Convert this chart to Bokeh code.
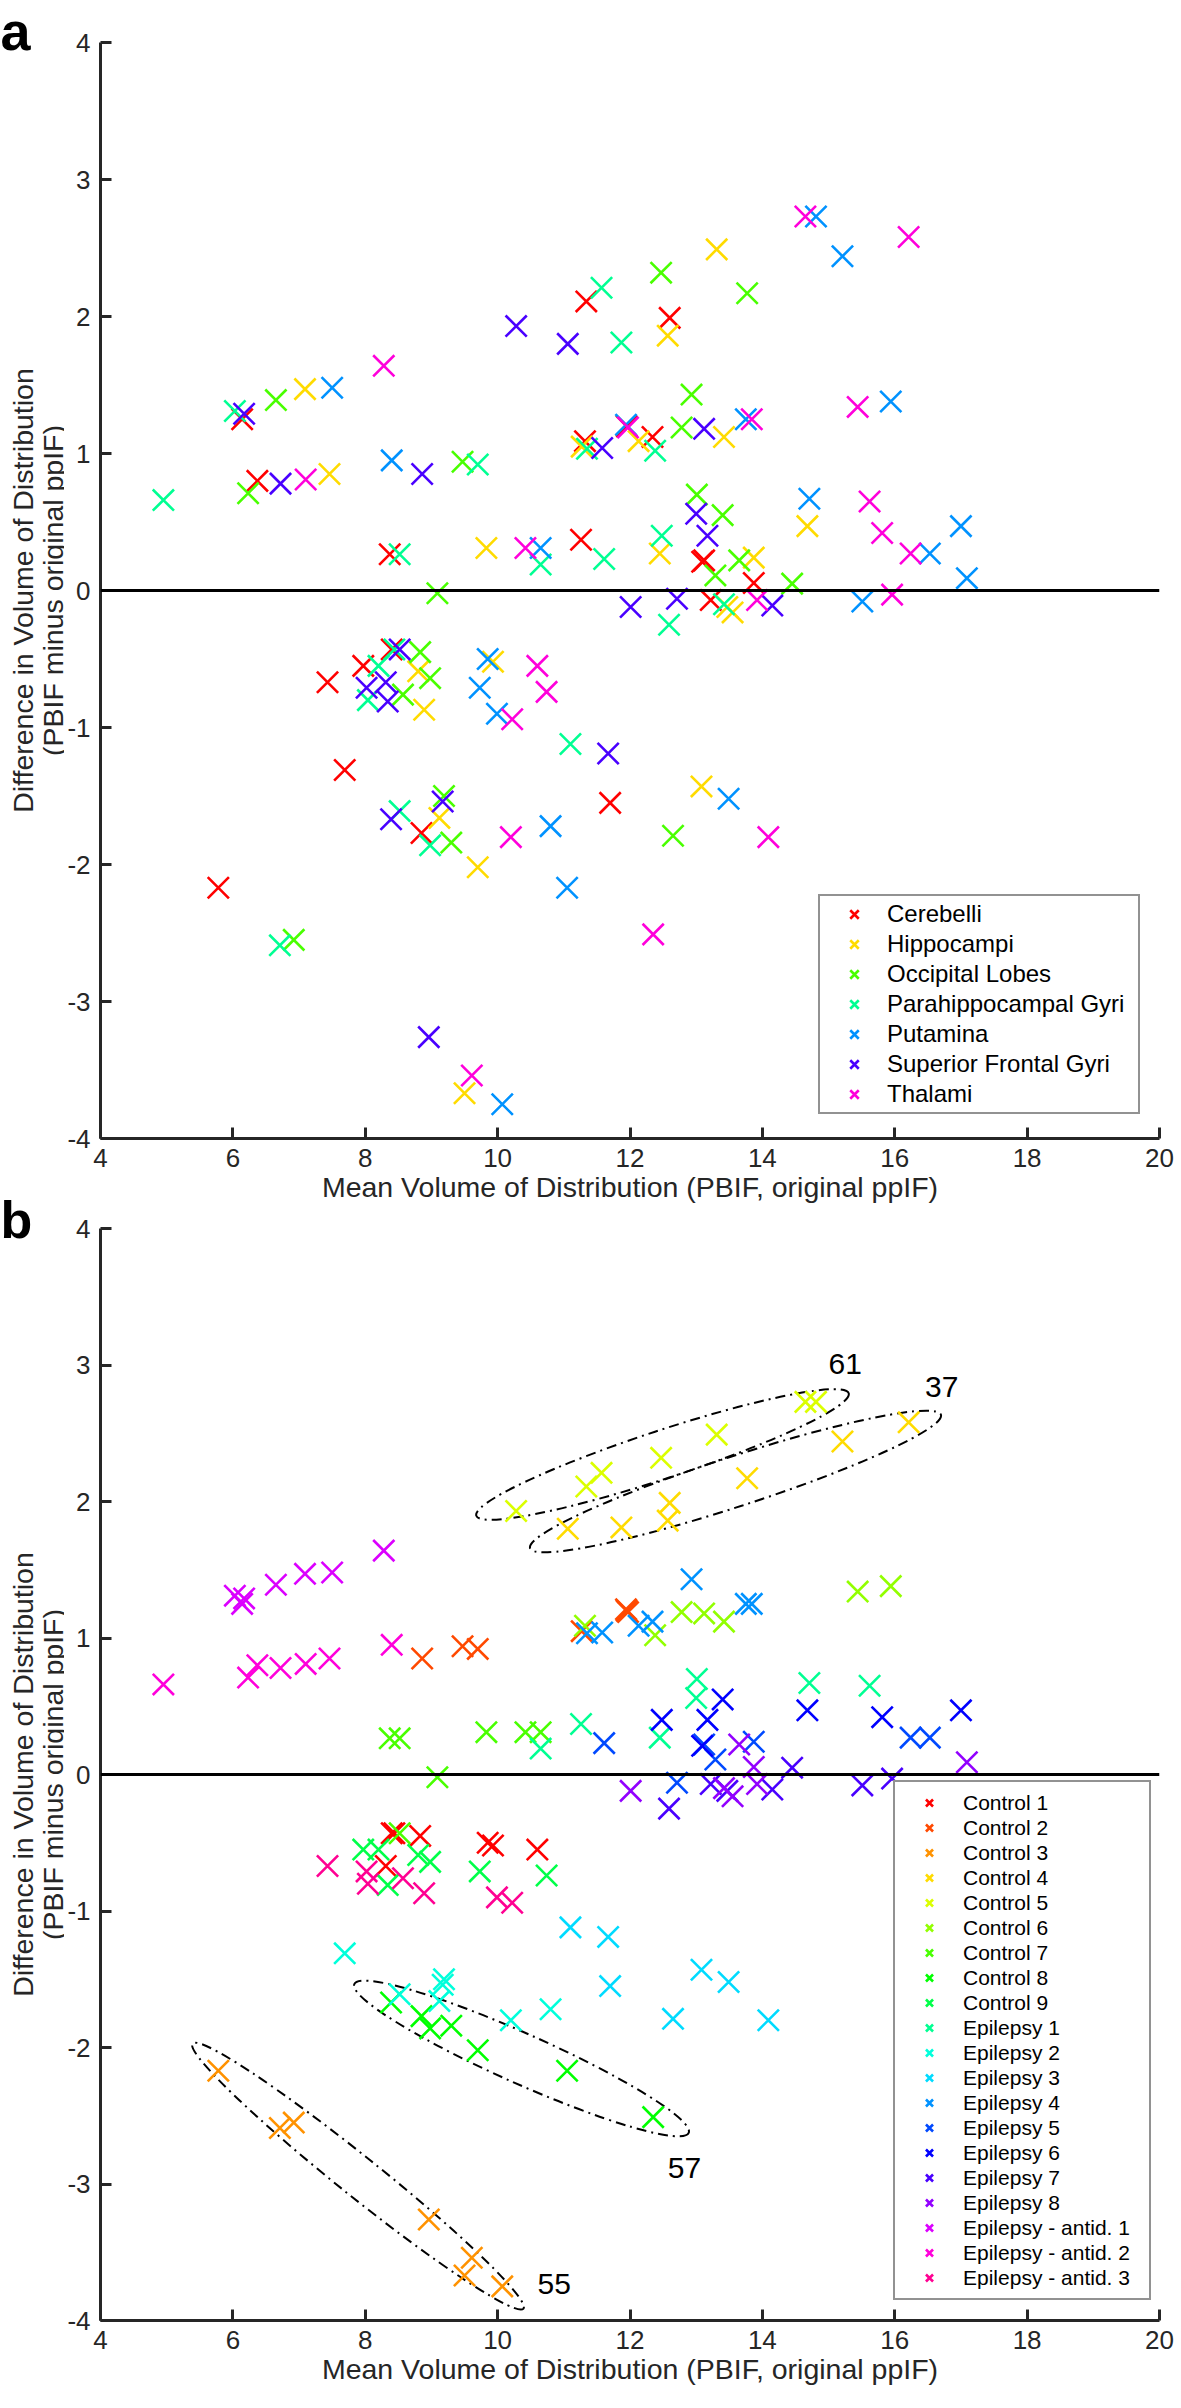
import math
from bokeh.plotting import figure
from bokeh.models import Span, Label, Legend, LegendItem, FixedTicker, Range1d, ColumnDataSource
from bokeh.layouts import column, row
from bokeh.embed import file_html
from bokeh.resources import INLINE

# ---------------- data ----------------
subjects = ["Control 1", "Control 2", "Control 3", "Control 4", "Control 5", "Control 6",
            "Control 7", "Control 8", "Control 9", "Epilepsy 1", "Epilepsy 2", "Epilepsy 3",
            "Epilepsy 4", "Epilepsy 5", "Epilepsy 6", "Epilepsy 7", "Epilepsy 8",
            "Epilepsy - antid. 1", "Epilepsy - antid. 2", "Epilepsy - antid. 3"]
regions = ["Cerebelli", "Hippocampi", "Occipital Lobes", "Parahippocampal Gyri",
           "Putamina", "Superior Frontal Gyri", "Thalami"]

# mean VD (x) and difference (y), one value per subject (order as in `subjects`)
cerebelli_mean = [8.40, 11.95, 5.78, 12.60, 11.34, 11.32, 8.37, 8.85, 7.97, 11.26,
                  7.69, 11.70, 12.34, 13.12, 13.09, 13.22, 13.87, 6.14, 6.37, 7.43]
cerebelli_diff = [-0.43, 1.20, -2.17, 1.99, 2.11, 1.09, 0.265, -1.77, -0.55, 0.37,
                  -1.31, -1.55, 1.12, 0.22, 0.21, -0.07, 0.055, 1.25, 0.80, -0.67]
hippocampi_mean = [9.93, 11.27, 9.50, 12.57, 13.31, 13.42, 9.83, 9.70, 8.80, 12.45,
                   9.12, 13.08, 12.13, 13.87, 14.68, 13.47, 13.55, 7.09, 7.46, 8.89]
hippocampi_diff = [-0.52, 1.05, -3.67, 1.86, 2.49, 1.12, 0.31, -2.02, -0.59, 0.27,
                   -1.66, -1.43, 1.09, 0.24, 0.47, -0.12, -0.16, 1.47, 0.85, -0.87]
occipital_mean = [8.83, 9.47, 6.92, 13.77, 12.47, 12.78, 9.09, 9.30, 8.98, 13.01,
                  9.19, 12.65, 12.93, 13.29, 13.40, 14.45, 13.65, 6.65, 6.23, 8.57]
occipital_diff = [-0.45, 0.94, -2.55, 2.17, 2.32, 1.19, -0.02, -1.84, -0.64, 0.70,
                  -1.50, -1.79, 1.43, 0.11, 0.55, 0.05, 0.22, 1.39, 0.71, -0.76]
parahippocampal_mean = [8.44, 9.70, 6.71, 11.87, 11.57, 12.38, 8.52, 8.98, 8.20, 10.65,
                        8.52, 11.10, 11.35, 11.61, 12.48, 12.59, 13.42, 6.03, 4.95, 8.04]
parahippocampal_diff = [-0.43, 0.92, -2.59, 1.81, 2.21, 1.02, 0.265, -1.86, -0.55, 0.19,
                        -1.61, -1.12, 1.035, 0.23, 0.40, -0.25, -0.10, 1.31, 0.66, -0.80]
putamina_mean = [9.85, 11.94, 10.07, 15.21, 14.81, 15.94, 10.65, 11.05, 9.73, 14.71,
                 10.80, 13.49, 13.75, 16.53, 17.00, 15.51, 17.09, 7.50, 8.40, 9.99]
putamina_diff = [-0.50, 1.21, -3.75, 2.44, 2.73, 1.38, 0.31, -2.17, -0.71, 0.67,
                 -1.72, -1.52, 1.25, 0.27, 0.47, -0.08, 0.09, 1.48, 0.95, -0.90]
sfg_mean = [8.31, 8.86, 8.96, 11.06, 10.28, 13.12, 8.52, 8.39, 8.34, 13.00,
            9.17, 11.67, 11.58, 12.71, 13.17, 14.15, 12.01, 6.17, 6.72, 8.02]
sfg_diff = [-0.67, 0.85, -3.26, 1.80, 1.93, 1.18, -0.43, -1.67, -0.81, 0.56,
            -1.54, -1.19, 1.04, -0.06, 0.40, -0.11, -0.12, 1.29, 0.78, -0.71]
thalami_mean = [10.60, 11.97, 9.61, 16.21, 14.65, 15.44, 10.42, 12.35, 10.74, 15.62,
                10.20, 14.09, 13.84, 16.24, 15.81, 15.96, 13.92, 8.28, 7.10, 10.22]
thalami_diff = [-0.55, 1.19, -3.54, 2.58, 2.73, 1.34, 0.31, -2.51, -0.74, 0.65,
                -1.80, -1.80, 1.25, 0.27, 0.42, -0.03, -0.07, 1.64, 0.81, -0.94]

x_ticks = [4, 6, 8, 10, 12, 14, 16, 18, 20]
y_ticks = [-4, -3, -2, -1, 0, 1, 2, 3, 4]

region_means = [cerebelli_mean, hippocampi_mean, occipital_mean, parahippocampal_mean,
                putamina_mean, sfg_mean, thalami_mean]
region_diffs = [cerebelli_diff, hippocampi_diff, occipital_diff, parahippocampal_diff,
                putamina_diff, sfg_diff, thalami_diff]

# ---------------- styles ----------------
region_colors = ["#FF0000", "#FFDB00", "#49FF00", "#00FF92", "#0092FF", "#4900FF", "#FF00DB"]
subject_colors = ["#FF0000", "#FF4900", "#FF9200", "#FFDB00", "#DBFF00", "#92FF00", "#49FF00",
                  "#00FF00", "#00FF49", "#00FF92", "#00FFDB", "#00DBFF", "#0092FF", "#0049FF",
                  "#0000FF", "#4900FF", "#9200FF", "#DB00FF", "#FF00DB", "#FF0092"]

FONT = "Liberation Sans"
AX = "#262626"
FRAME_W = 1059
LEFT_W = 64            # width of the narrow text column on the left
BORDER_L = 107 - 8 - LEFT_W
PX_X = FRAME_W / 16.0
MARKER = 30
MLW = 2.6

A_H, A_TOP, A_BOT = 1096, 42, 74
B_H, B_TOP_B, B_BOT = 1092, 16, 72
B_FRAME_TOP = 8 + A_TOP + A_H + A_BOT + B_TOP_B   # page y of panel b frame top
TOTAL_H = A_TOP + A_H + A_BOT + B_TOP_B + B_H + B_BOT


def px_to_x(px):
    return 4 + (px - 107) / PX_X


def make_panel(frame_h, top, bottom):
    p = figure(frame_width=FRAME_W, frame_height=frame_h,
               x_range=Range1d(4, 20), y_range=Range1d(-4, 4),
               output_backend="svg", toolbar_location=None,
               min_border_left=BORDER_L, min_border_right=15,
               min_border_top=top, min_border_bottom=bottom)
    p.outline_line_color = None
    p.grid.visible = False
    p.background_fill_color = "white"
    p.border_fill_color = "white"
    p.xaxis.ticker = FixedTicker(ticks=x_ticks)
    p.yaxis.ticker = FixedTicker(ticks=y_ticks)
    p.yaxis.major_label_overrides = {t: str(t) for t in y_ticks}
    p.xaxis.major_label_overrides = {t: str(t) for t in x_ticks}
    for ax in (p.xaxis[0], p.yaxis[0]):
        ax.axis_line_width = 3
        ax.axis_line_color = AX
        ax.major_tick_line_width = 3
        ax.major_tick_line_color = AX
        ax.major_tick_in = 11
        ax.major_tick_out = 0
        ax.minor_tick_line_color = None
        ax.major_label_text_font = FONT
        ax.major_label_text_font_size = "26px"
        ax.major_label_text_color = AX
    p.yaxis.major_label_standoff = 10
    p.xaxis.major_label_standoff = 10
    p.xaxis.axis_label = "Mean Volume of Distribution (PBIF, original ppIF)"
    p.xaxis.axis_label_text_font = FONT
    p.xaxis.axis_label_text_font_size = "28.5px"
    p.xaxis.axis_label_text_font_style = "normal"
    p.xaxis.axis_label_text_color = AX
    p.xaxis.axis_label_standoff = 1
    p.add_layout(Span(location=0, dimension="width", line_color="black", line_width=3))
    return p


# ---------------- panel a ----------------
pa = make_panel(A_H, A_TOP, A_BOT)
items_a = []
for name, xs, ys, col in zip(regions, region_means, region_diffs, region_colors):
    src = ColumnDataSource(dict(x=xs, y=ys))
    r = pa.scatter("x", "y", source=src, marker="x", size=MARKER, line_color=col, line_width=MLW)
    items_a.append(LegendItem(label=name, renderers=[r]))
leg_a = Legend(items=items_a, location=(718, 24), padding=3, spacing=0, margin=0,
               glyph_width=62, glyph_height=30, label_height=30, label_standoff=2, label_width=248,
               label_text_font=FONT, label_text_font_size="24px", label_text_color="black",
               border_line_color=AX, border_line_width=2.5,
               background_fill_color="white", background_fill_alpha=1.0)
pa.add_layout(leg_a)

# ---------------- panel b ----------------
pb = make_panel(B_H, B_TOP_B, B_BOT)
B_PY = B_H / 8.0


def py_to_yb(py):
    return 4 - (py - B_FRAME_TOP) / B_PY


# annotation ellipses: centre (page px), full length, full thickness (px), angle (deg)
ellipses = [((669, 1462), 392, 48, 18.2),
            ((742, 1489), 432, 50, 18.0),
            ((528, 2066), 366, 50, -24.0),
            ((364.5, 2183.6), 424, 40, -38.7)]
for (cx, cy), w, h, ang in ellipses:
    pb.ellipse(x=[px_to_x(cx)], y=[py_to_yb(cy)], width=[w], height=[h],
               angle=[math.radians(ang)], width_units="screen", height_units="screen",
               fill_color=None, line_color="black", line_width=2, line_dash="10 5 2 5")

items_b = []
for i, (name, col) in enumerate(zip(subjects, subject_colors)):
    xs = [m[i] for m in region_means]
    ys = [d[i] for d in region_diffs]
    src = ColumnDataSource(dict(x=xs, y=ys))
    r = pb.scatter("x", "y", source=src, marker="x", size=MARKER, line_color=col, line_width=MLW)
    items_b.append(LegendItem(label=name, renderers=[r]))
leg_b = Legend(items=items_b, location=(793, 20), padding=8, spacing=0, margin=0,
               glyph_width=52, glyph_height=25, label_height=25, label_standoff=8, label_width=178,
               label_text_font=FONT, label_text_font_size="21px", label_text_color="black",
               border_line_color=AX, border_line_width=2.5,
               background_fill_color="white", background_fill_alpha=1.0)
pb.add_layout(leg_b)

for txt, (px, py) in (("61", (851.7, 1371.0)), ("37", (948.2, 1394.0)),
                      ("57", (691.0, 2175.0)), ("55", (560.7, 2291.8))):
    pb.add_layout(Label(x=px_to_x(px), y=py_to_yb(py), text=txt, text_align="center",
                        text_baseline="middle", text_font=FONT, text_font_size="30px",
                        text_color="black"))

# ---------------- left text column (panel letters and y-axis titles) ----------------
pl = figure(width=LEFT_W, height=TOTAL_H, x_range=Range1d(0, LEFT_W), y_range=Range1d(0, TOTAL_H),
            output_backend="svg", toolbar_location=None, x_axis_location=None, y_axis_location=None,
            min_border=0, min_border_left=0, min_border_right=0, min_border_top=0, min_border_bottom=0)
pl.outline_line_color = None
pl.grid.visible = False
pl.background_fill_color = "white"
pl.border_fill_color = "white"


def ly(py):   # page y -> left column y
    return TOTAL_H + 8 - py


def lx(px):   # page x -> left column x
    return px - 8


pl.add_layout(Label(x=lx(8), y=ly(38), text="a", text_align="left", text_baseline="alphabetic",
                    text_font=FONT, text_font_size="54px", text_font_style="bold", text_color="black"))
pl.add_layout(Label(x=lx(8), y=ly(1227), text="b", text_align="left", text_baseline="alphabetic",
                    text_font=FONT, text_font_size="52px", text_font_style="bold", text_color="black"))
for cy in (50 + A_H / 2.0, B_FRAME_TOP + B_H / 2.0):
    for px, txt in ((30.5, "Difference in Volume of Distribution"),
                    (60, "(PBIF minus original ppIF)")):
        pl.add_layout(Label(x=lx(px), y=ly(cy), text=txt, angle=math.pi / 2,
                            text_align="center", text_baseline="alphabetic",
                            text_font=FONT, text_font_size="28.5px", text_color=AX))

layout = row(pl, column(pa, pb, spacing=0), spacing=0)
open("out.html", "w").write(file_html(layout, INLINE))
